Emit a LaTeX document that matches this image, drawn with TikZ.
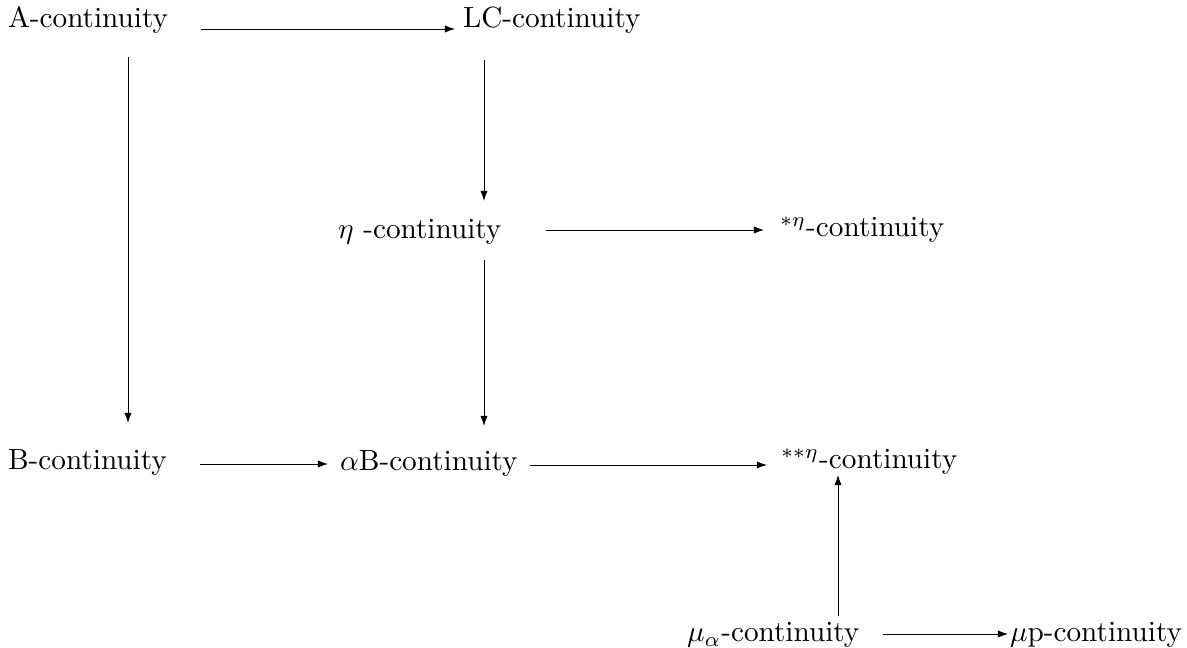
\documentclass[tikz,border=0pt]{standalone}
\usetikzlibrary{arrows.meta,calc}
\tikzset{
  lbl/.style={anchor=base west,inner sep=0pt,outer sep=0pt},
  arr/.style={-{Latex[length=3.5pt,width=2.5pt]},line width=0.3pt}
}
\begin{document}
\begin{tikzpicture}[x=0.342pt,y=-0.342pt]
\useasboundingbox (0,0) rectangle (1187,648);
\node[lbl] (A)   at (8,28)    {A-continuity};
\node[lbl] (LC)  at (463,28)  {LC-continuity};
\node[lbl] (E)   at (338,239) {$\eta$ -continuity};
\node[lbl] (SE)  at (780,237) {$^{*\eta}$-continuity};
\node[lbl] (B)   at (8,470)   {B-continuity};
\node[lbl] (AB)  at (340,471) {$\alpha$B-continuity};
\node[lbl] (SSE) at (781,469) {$^{**\eta}$-continuity};
\node[lbl] (MA)  at (687,642) {$\mu_\alpha$-continuity};
\node[lbl] (MP)  at (1010,642){$\mu$p-continuity};
% horizontal arrows
\draw[arr] ($(A.base east)+(33,1)$)  -- ($(LC.base west)+(-8,1)$);
\draw[arr] ($(E.base east)+(45,-9)$) -- ($(SE.base west)+(-16,-7)$);
\draw[arr] ($(B.base east)+(33,-6)$) -- ($(AB.base west)+(-12,-7)$);
\draw[arr] ($(AB.base east)+(12,-6)$) -- ($(SSE.base west)+(-14,-4)$);
\draw[arr] ($(MA.base east)+(24,-8)$) -- ($(MP.base west)+(-2,-8)$);
% vertical arrows
\draw[arr] ($(A.base west)+(120,29)$)  -- ($(B.base west)+(120,-47)$);
\draw[arr] ($(LC.base west)+(21,32)$)  -- ($(E.base west)+(146,-38)$);
\draw[arr] ($(E.base west)+(146,21)$)  -- ($(AB.base west)+(144,-45)$);
\draw[arr] ($(MA.base west)+(151,-26)$) -- ($(SSE.base west)+(57,6)$);
\end{tikzpicture}
\end{document}
